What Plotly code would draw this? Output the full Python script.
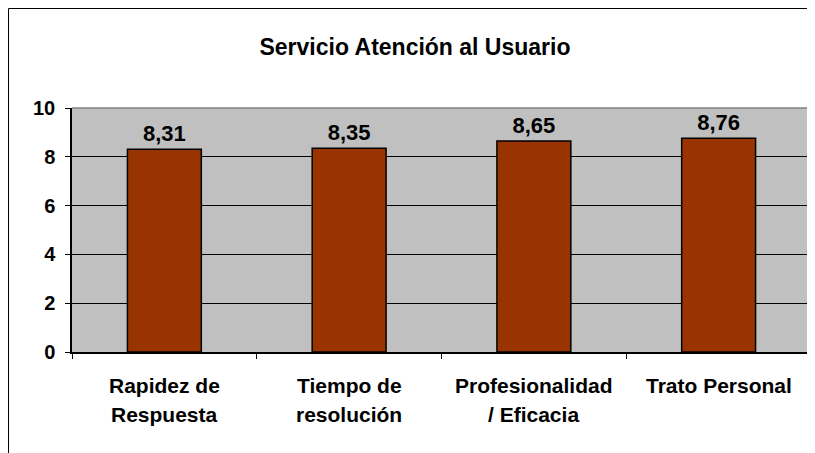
import plotly.graph_objects as go

# data
categories = ["Rapidez de<br>Respuesta", "Tiempo de<br>resolución", "Profesionalidad<br>/ Eficacia", "Trato Personal"]
values = [8.31, 8.35, 8.65, 8.76]
value_labels = ["8,31", "8,35", "8,65", "8,76"]
y_ticks = [0, 2, 4, 6, 8, 10]

# page body has an 8px margin, so the figure sits at (8, 8)
OFF = 8
W, H = 815 - OFF, 453 - OFF
L, R, T, B = 72 - OFF, 811 - OFF, 108 - OFF, 352 - OFF
FONT = "Liberation Sans, Arial, sans-serif"

fig = go.Figure()
fig.add_trace(go.Bar(
    x=categories, y=values, text=[f"<b>{v}</b>" for v in value_labels], textposition="outside",
    textfont=dict(size=22, color="black", family=FONT),
    marker=dict(color="#993300", line=dict(color="black", width=1.5)),
    width=0.4, cliponaxis=False,
))

fig.update_layout(
    width=W, height=H,
    margin=dict(l=L, r=W - R, t=T, b=H - B),
    paper_bgcolor="white", plot_bgcolor="#C0C0C0",
    font=dict(family=FONT, color="black"),
    showlegend=False,
    title=dict(text="<b>Servicio Atención al Usuario</b>", x=(415 - OFF) / W, xanchor="center",
               y=1 - (47 - OFF) / H, yanchor="middle", yref="container",
               font=dict(size=23, color="black", family=FONT)),
)

fig.update_yaxes(range=[0, 10], tickvals=y_ticks, ticktext=[f"<b>{v}</b>" for v in y_ticks],
                 showgrid=True, gridcolor="black", gridwidth=1,
                 showline=True, linecolor="black", linewidth=1.5,
                 ticks="outside", ticklen=5, tickcolor="black", ticklabelstandoff=6,
                 tickfont=dict(size=20, color="black"), zeroline=False)
fig.update_xaxes(showticklabels=False, tickson="boundaries", ticks="outside", ticklen=5,
                 tickcolor="black", showline=True, linecolor="black", linewidth=1.5)

# top/right border of the plot area
fig.add_shape(type="line", xref="paper", yref="paper", x0=0, x1=1, y0=1, y1=1,
              line=dict(color="#808080", width=1.5))
fig.add_shape(type="line", xref="paper", yref="paper", x0=1, x1=1, y0=0, y1=1,
              line=dict(color="#808080", width=1.5))

# outer chart frame
pw, ph = R - L, B - T
fig.add_shape(type="rect", xref="paper", yref="paper",
              x0=(0.5 - L) / pw, x1=(W + 5 - L) / pw,
              y0=(B - (H + 5)) / ph, y1=(B - 0.5) / ph,
              line=dict(color="black", width=1))

# category labels (two lines, wide line spacing)
for cat in categories:
    parts = cat.split("<br>")
    for i, part in enumerate(parts):
        fig.add_annotation(x=cat, y=(B - (385 - OFF + 29 * i)) / ph, xref="x", yref="paper",
                           text=f"<b>{part}</b>", showarrow=False, yanchor="middle",
                           font=dict(size=21, color="black", family=FONT))

fig.write_html("out.html")
